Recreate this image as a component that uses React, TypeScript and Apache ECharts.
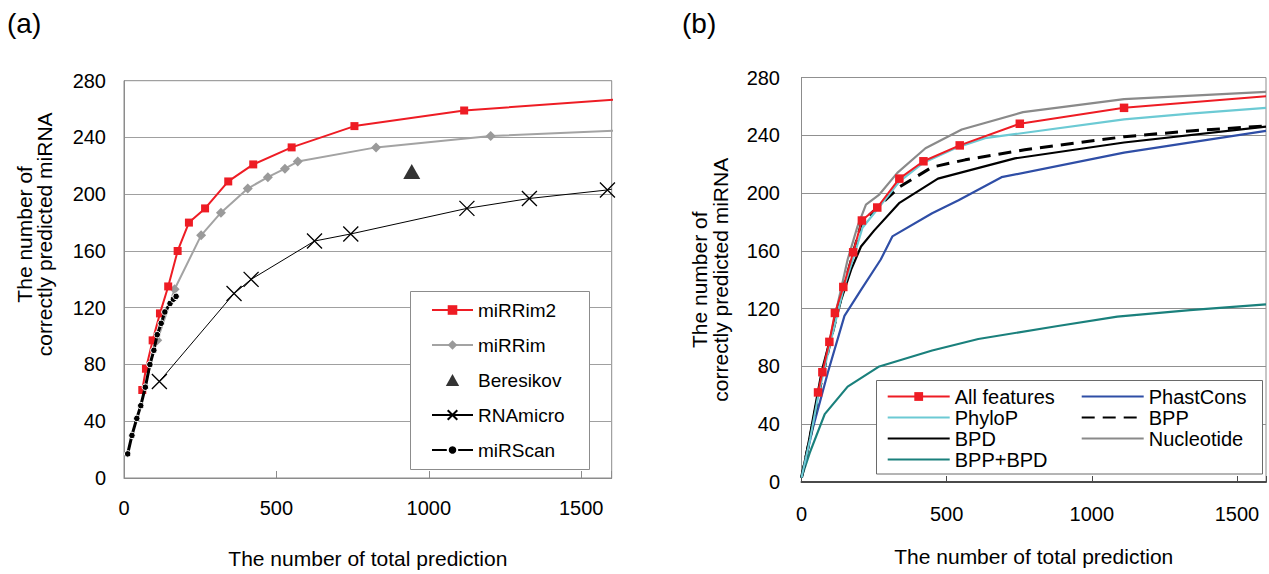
import React, { useEffect, useRef } from 'react';
import * as echarts from 'echarts';

// ---------- Panel (a) data ----------
const xTickLabels = ['0', '500', '1000', '1500'];
const yTickLabels = ['0', '40', '80', '120', '160', '200', '240', '280'];

const miRRim2 = [[60, 62], [72, 77], [94, 97], [118, 116], [145, 135], [176, 160], [213, 180], [266, 190], [342, 209], [424, 221], [550, 233], [756, 248], [1116, 259]];
const miRRim2Tail = [1633, 267];
const miRRim = [[109, 97], [166, 133], [253, 171], [318, 187], [406, 204], [472, 212], [528, 218], [570, 223], [827, 233], [1203, 241]];
const miRRimTail = [1633, 245];
const beresikov = [[944, 216]];
const rnaMicro = [[116, 68], [361, 130], [417, 140], [625, 167], [744, 172], [1125, 190], [1330, 197], [1586, 203]];
const rnaMicroTail = [1600, 203.5];
const miRScan = [[12, 17], [26, 30], [42, 42], [55, 51], [70, 64], [85, 80], [98, 90], [109, 101], [122, 109], [134, 117], [151, 123], [162, 126], [171, 128]];

// ---------- Panel (b) data ----------
const allFeatures = [[57, 62], [72, 76], [96, 97], [115, 117], [144, 135], [178, 159], [208, 181], [261, 190], [337, 210], [420, 222], [545, 233], [752, 248], [1111, 259]];
const allFeaturesTail = [1600, 267];
const phyloP = [[0, 3], [30, 30], [60, 62], [100, 97], [145, 134], [180, 156], [210, 176], [262, 189], [337, 208], [420, 221], [541, 232], [632, 238], [1111, 251], [1338, 255], [1600, 259]];
const phastCons = [[0, 3], [40, 38], [91, 76], [148, 115], [205, 133], [273, 154], [313, 170], [450, 186], [541, 195], [689, 211], [1111, 228], [1600, 243]];
const bpp = [[0, 3], [30, 31], [60, 62], [100, 98], [150, 138], [180, 160], [208, 180], [267, 191], [336, 204], [450, 218], [564, 223], [769, 230], [1111, 239], [1338, 243], [1600, 246.5]];
const bpd = [[0, 3], [25, 28], [70, 77], [125, 119], [171, 147], [205, 163], [250, 174], [336, 193], [470, 210], [735, 224], [1111, 235], [1600, 246]];
const nucleotide = [[0, 3], [30, 32], [60, 64], [100, 101], [159, 154], [193, 177], [222, 192], [268, 199], [330, 214], [427, 231], [552, 244], [763, 256], [1111, 265], [1600, 270]];
const bppBpd = [[0, 3], [28, 20], [80, 47], [159, 66], [268, 80], [450, 91], [609, 99], [883, 108], [1088, 114.5], [1338, 119], [1600, 123]];

const legendA = ['miRRim2', 'miRRim', 'Beresikov', 'RNAmicro', 'miRScan'];
const legendB1 = ['All features', 'PhyloP', 'BPD', 'BPP+BPD'];
const legendB2 = ['PhastCons', 'BPP', 'Nucleotide'];
const lineOnlyLegend = ['PhyloP', 'BPD', 'BPP+BPD', 'PhastCons', 'BPP', 'Nucleotide'];

const FONT = "'Liberation Sans', Arial, Helvetica, sans-serif";
const xTitle = 'The number of total prediction';
const yTitle = 'The number of\ncorrectly predicted miRNA';

const xLabelFmt = (v: number) => (xTickLabels.includes(String(v)) ? String(v) : '');
const yLabelFmt = (v: number) => (yTickLabels.includes(String(v)) ? String(v) : '');
const legendItems = (names: string[]) =>
  names.map((n) => (lineOnlyLegend.includes(n) ? { name: n, itemStyle: { opacity: 0 } } : { name: n }));

export default function App() {
  const ref = useRef<HTMLDivElement>(null);
  useEffect(() => {
    if (!ref.current) return;
    const chart = echarts.init(ref.current, null, { renderer: 'svg' });
    const axisLabel = (margin: number, fmt: any) => ({ color: '#000', fontSize: 20, fontFamily: FONT, margin, formatter: fmt });
    const option: any = {
      animation: false,
      backgroundColor: '#ffffff',
      textStyle: { fontFamily: FONT },
      grid: [
        { left: 124, top: 80.7, width: 487.7, height: 403.9, show: true, borderColor: '#8c8c8c', borderWidth: 1 },
        { left: 801.5, top: 77.5, width: 466.5, height: 404.5, show: true, borderColor: '#8c8c8c', borderWidth: 1 },
      ],
      xAxis: [
        {
          type: 'value', gridIndex: 0, min: 0, max: 1600, interval: 500,
          axisLine: { show: true, lineStyle: { color: '#8c8c8c', width: 1 } },
          axisTick: { show: true, inside: true, length: 7, lineStyle: { color: '#8c8c8c' } },
          splitLine: { show: false },
          axisLabel: axisLabel(20, xLabelFmt),
          name: xTitle, nameLocation: 'middle', nameGap: 70,
          nameTextStyle: { fontSize: 21, lineHeight: 21, color: '#000', fontFamily: FONT },
        },
        {
          type: 'value', gridIndex: 1, min: 0, max: 1600, interval: 500,
          axisLine: { show: true, lineStyle: { color: '#4a4a4a', width: 2 } },
          axisTick: { show: true, inside: true, length: 6, lineStyle: { color: '#4a4a4a' } },
          splitLine: { show: false },
          axisLabel: axisLabel(22, xLabelFmt),
          name: xTitle, nameLocation: 'middle', nameGap: 64,
          nameTextStyle: { fontSize: 21, lineHeight: 21, color: '#000', fontFamily: FONT },
        },
      ],
      yAxis: [
        {
          type: 'value', gridIndex: 0, min: 0, max: 280, interval: 40,
          axisLine: { show: true, lineStyle: { color: '#8c8c8c' } },
          axisTick: { show: false },
          splitLine: { show: true, lineStyle: { color: '#a0a0a0', width: 1 } },
          axisLabel: axisLabel(18, yLabelFmt),
          name: yTitle, nameLocation: 'middle', nameGap: 70,
          nameTextStyle: { fontSize: 21, lineHeight: 20, color: '#000', fontFamily: FONT, padding: [0, 0, 0, 90] },
        },
        {
          type: 'value', gridIndex: 1, min: 0, max: 280, interval: 40,
          axisLine: { show: true, lineStyle: { color: '#8c8c8c' } },
          axisTick: { show: false },
          splitLine: { show: true, lineStyle: { color: '#909090', width: 1 } },
          axisLabel: axisLabel(21.5, yLabelFmt),
          name: yTitle, nameLocation: 'middle', nameGap: 71,
          nameTextStyle: { fontSize: 21, lineHeight: 21, color: '#000', fontFamily: FONT },
        },
      ],
      legend: [
        {
          data: legendItems(legendA), orient: 'vertical', left: 431, top: 300, padding: 0,
          itemWidth: 41, itemHeight: 12, itemGap: 15, z: 10, symbolKeepAspect: true,
          textStyle: { fontSize: 19, lineHeight: 20, color: '#000', fontFamily: FONT },
        },
        {
          data: legendItems(legendB1), orient: 'vertical', left: 886.7, top: 386, padding: 0,
          itemWidth: 62, itemHeight: 11, itemGap: 0, z: 10,
          textStyle: { fontSize: 20, lineHeight: 21, color: '#000', fontFamily: FONT },
        },
        {
          data: legendItems(legendB2), orient: 'vertical', left: 1080.7, top: 386, padding: 0,
          itemWidth: 62, itemHeight: 11, itemGap: 0, z: 10,
          textStyle: { fontSize: 20, lineHeight: 21, color: '#000', fontFamily: FONT },
        },
      ],
      graphic: [
        { type: 'rect', z: 3, shape: { x: 410.5, y: 291.5, width: 179, height: 178 }, style: { fill: '#fff', stroke: '#8c8c8c', lineWidth: 1 } },
        { type: 'rect', z: 3, shape: { x: 876.5, y: 380.5, width: 386, height: 93.5 }, style: { fill: '#fff', stroke: '#6a6a6a', lineWidth: 1 } },
        { type: 'text', z: 10, x: 7, y: 23, style: { text: '(a)', fontSize: 28, fontFamily: FONT, fill: '#000', verticalAlign: 'middle' } },
        { type: 'text', z: 10, x: 682, y: 23, style: { text: '(b)', fontSize: 28, fontFamily: FONT, fill: '#000', verticalAlign: 'middle' } },
      ],
      series: [
        // ---- panel (a)
        {
          name: 'RNAmicro', type: 'line', xAxisIndex: 0, yAxisIndex: 0, clip: false,
          data: [...rnaMicro, { value: rnaMicroTail, symbol: 'none' }],
          symbol: 'path://M0,0L10,10M0,10L10,0', symbolSize: 15,
          color: '#000',
          itemStyle: { color: '#000', borderColor: '#000', borderWidth: 1.3 },
          lineStyle: { color: '#000', width: 1 }, z: 3,
        },
        {
          name: 'miRRim', type: 'line', xAxisIndex: 0, yAxisIndex: 0, clip: false,
          data: [...miRRim, { value: miRRimTail, symbol: 'none' }],
          symbol: 'diamond', symbolSize: 10, color: '#9a9a9a',
          itemStyle: { color: '#9a9a9a' },
          lineStyle: { color: '#a3a3a3', width: 2 }, z: 4,
        },
        {
          name: 'miRRim2', type: 'line', xAxisIndex: 0, yAxisIndex: 0, clip: false,
          data: [...miRRim2, { value: miRRim2Tail, symbol: 'none' }],
          symbol: 'rect', symbolSize: 8, color: '#ee1c24',
          itemStyle: { color: '#ee1c24' },
          lineStyle: { color: '#ee1c24', width: 2 }, z: 5,
        },
        {
          name: 'miRScan', type: 'line', xAxisIndex: 0, yAxisIndex: 0,
          data: miRScan, symbol: 'circle', symbolSize: 6.5, color: '#000',
          itemStyle: { color: '#000', borderColor: '#fff', borderWidth: 1 },
          lineStyle: { color: '#000', width: 3 }, z: 6,
        },
        {
          name: 'Beresikov', type: 'scatter', xAxisIndex: 0, yAxisIndex: 0,
          data: beresikov, symbol: 'path://M5,0L10,9L0,9Z', symbolSize: [17, 15], color: '#000',
          itemStyle: { color: '#000' }, z: 6,
        },
        // ---- panel (b)
        {
          name: 'BPP+BPD', type: 'line', xAxisIndex: 1, yAxisIndex: 1, data: bppBpd,
          symbol: 'none', color: '#1a807c', lineStyle: { color: '#1a807c', width: 2.2 }, z: 3,
        },
        {
          name: 'Nucleotide', type: 'line', xAxisIndex: 1, yAxisIndex: 1, data: nucleotide,
          symbol: 'none', color: '#8a8a8a', lineStyle: { color: '#8a8a8a', width: 2.2 }, z: 3,
        },
        {
          name: 'PhastCons', type: 'line', xAxisIndex: 1, yAxisIndex: 1, data: phastCons,
          symbol: 'none', color: '#2f4ea6', lineStyle: { color: '#2f4ea6', width: 2.2 }, z: 3,
        },
        {
          name: 'BPD', type: 'line', xAxisIndex: 1, yAxisIndex: 1, data: bpd,
          symbol: 'none', color: '#000', lineStyle: { color: '#000', width: 2.2 }, z: 4,
        },
        {
          name: 'BPP', type: 'line', xAxisIndex: 1, yAxisIndex: 1, data: bpp,
          symbol: 'none', color: '#000', lineStyle: { color: '#000', width: 3, type: [13, 8] }, z: 4,
        },
        {
          name: 'PhyloP', type: 'line', xAxisIndex: 1, yAxisIndex: 1, data: phyloP,
          symbol: 'none', color: '#6ccad4', lineStyle: { color: '#6ccad4', width: 2.2 }, z: 5,
        },
        {
          name: 'All features', type: 'line', xAxisIndex: 1, yAxisIndex: 1,
          data: [...allFeatures, { value: allFeaturesTail, symbol: 'none' }],
          symbol: 'rect', symbolSize: 8.5, color: '#ee1c24',
          itemStyle: { color: '#ee1c24' },
          lineStyle: { color: '#ee1c24', width: 2 }, z: 6,
        },
      ],
    };
    chart.setOption(option);
    return () => chart.dispose();
  }, []);
  return <div ref={ref} style={{ position: 'absolute', left: 0, top: 0, width: 1269, height: 574 }} />;
}
